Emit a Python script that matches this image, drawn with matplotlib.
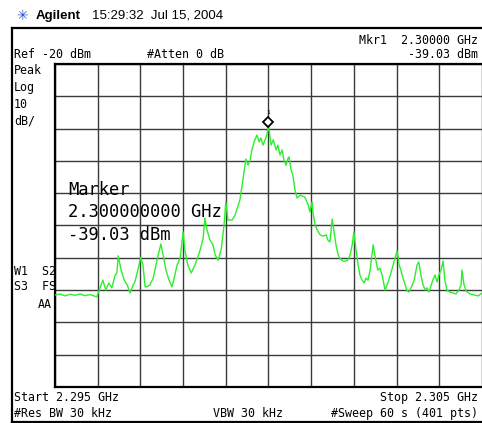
import numpy as np
import matplotlib
matplotlib.use("Agg")
import matplotlib.pyplot as plt
import matplotlib.transforms as mtransforms
from matplotlib.lines import Line2D

# -- Instrument settings -------------------------------------------------------
START_GHZ = 2.295
STOP_GHZ = 2.305
REF_DBM = -20
DB_PER_DIV = 10
N_DIV = 10

MKR_GHZ = 2.300
MKR_DBM = -39.03

# -- Trace (offset from start in MHz, level in dBm) ----------------------------
trace_mhz = [
    0.00, 0.12, 0.23, 0.35, 0.47, 0.59, 0.70, 0.82, 0.98, 1.01,
    1.12, 1.19, 1.26, 1.33, 1.41, 1.45, 1.48, 1.55, 1.62, 1.69,
    1.76, 1.83, 1.87, 1.94, 2.01, 2.06, 2.11, 2.15, 2.22, 2.30,
    2.34, 2.39, 2.48, 2.53, 2.60, 2.67, 2.74, 2.79, 2.86, 2.93,
    3.00, 3.04, 3.11, 3.19, 3.28, 3.40, 3.47, 3.51, 3.56, 3.63,
    3.70, 3.75, 3.82, 3.89, 3.96, 4.00, 4.05, 4.15, 4.22, 4.29,
    4.33, 4.40, 4.47, 4.52, 4.57, 4.61, 4.68, 4.73, 4.78, 4.82,
    4.87, 4.92, 4.96, 5.00, 5.06, 5.11, 5.18, 5.22, 5.27, 5.32,
    5.36, 5.41, 5.46, 5.48, 5.53, 5.57, 5.62, 5.67, 5.74, 5.85,
    5.93, 5.97, 6.02, 6.04, 6.09, 6.14, 6.21, 6.28, 6.35, 6.39,
    6.44, 6.49, 6.53, 6.58, 6.63, 6.67, 6.74, 6.81, 6.86, 6.91,
    6.96, 7.00, 7.05, 7.10, 7.14, 7.19, 7.24, 7.28, 7.33, 7.38,
    7.45, 7.49, 7.56, 7.61, 7.66, 7.73, 7.78, 7.85, 7.92, 8.01,
    8.06, 8.10, 8.15, 8.20, 8.24, 8.29, 8.34, 8.41, 8.48, 8.52,
    8.57, 8.62, 8.67, 8.71, 8.76, 8.81, 8.85, 8.90, 8.95, 8.99,
    9.04, 9.09, 9.13, 9.18, 9.25, 9.32, 9.39, 9.46, 9.51, 9.53,
    9.58, 9.63, 9.72, 9.81, 9.91, 10.00,
]
trace_dbm = [
    -91.5, -91.2, -91.8, -91.3, -91.6, -91.2, -91.7, -91.4, -92.1, -90.9,
    -86.9, -90.0, -87.8, -89.3, -85.3, -84.7, -79.4, -83.8, -86.9, -88.4,
    -90.9, -88.4, -87.5, -83.8, -79.8, -82.2, -89.0, -89.0, -88.4, -86.3,
    -83.8, -80.7, -75.7, -79.1, -83.8, -86.9, -89.0, -86.3, -82.2, -80.1,
    -72.0, -77.6, -82.2, -84.7, -82.2, -77.6, -73.9, -67.7, -71.4, -74.5,
    -76.0, -79.1, -80.7, -77.6, -69.8, -62.7, -68.3, -68.3, -66.7, -63.7,
    -62.1, -55.9, -49.4, -51.3, -49.7, -46.6, -43.5, -42.0, -44.1, -42.9,
    -45.1, -43.5, -42.0, -39.03, -45.1, -43.5, -46.6, -45.1, -48.2, -46.6,
    -49.7, -51.3, -49.1, -48.8, -52.8, -54.4, -59.0, -61.5, -60.6, -61.2,
    -63.7, -65.8, -62.7, -65.8, -69.8, -71.4, -72.9, -73.3, -72.9, -74.5,
    -75.1, -68.0, -71.4, -76.0, -79.1, -80.1, -81.0, -81.0, -80.7, -79.1,
    -76.0, -72.0, -77.6, -82.2, -85.3, -86.9, -87.8, -86.3, -86.9, -83.8,
    -76.0, -79.1, -83.8, -83.2, -85.3, -90.0, -88.4, -85.5, -82.2, -77.9,
    -82.2, -83.8, -86.3, -88.4, -90.0, -90.6, -89.3, -86.9, -82.2, -81.3,
    -85.3, -88.4, -90.0, -89.3, -90.6, -88.4, -86.9, -85.3, -87.5, -85.3,
    -83.8, -81.0, -86.9, -90.0, -90.6, -90.9, -91.2, -90.0, -88.4, -83.8,
    -88.4, -90.3, -91.2, -91.5, -91.8, -90.9,
]

# -- Figure setup (pixel based, 482x423) ---------------------------------------
W, H = 482, 423
fig = plt.figure(figsize=(W / 100, H / 100), dpi=100)
fig.patch.set_facecolor("white")

def fx(x):
    return x / W

def fy(y):
    return 1 - y / H

MONO = "DejaVu Sans Mono"
TXT = 8.4

# graticule area
gx0, gy0, gx1, gy1 = 55, 64, 482, 387
ax = fig.add_axes([fx(gx0), fy(gy1), (gx1 - gx0) / W, (gy1 - gy0) / H])
ax.set_xlim(START_GHZ, STOP_GHZ)
ax.set_ylim(REF_DBM - N_DIV * DB_PER_DIV, REF_DBM)
ax.set_xticks(np.linspace(START_GHZ, STOP_GHZ, N_DIV + 1))
ax.set_yticks(np.linspace(REF_DBM - N_DIV * DB_PER_DIV, REF_DBM, N_DIV + 1))
ax.tick_params(length=0, labelbottom=False, labelleft=False)
ax.grid(True, color="#3a3a3a", linewidth=1.0)
for s in ax.spines.values():
    s.set_color("black")
    s.set_linewidth(1.6)
ax.spines["right"].set_visible(False)

freq = START_GHZ + np.array(trace_mhz) / 1000.0
ax.plot(freq, trace_dbm, color="#2bef2b", linewidth=1.0, zorder=3)

# marker diamond just above the trace point
mk_tr = mtransforms.offset_copy(ax.transData, fig=fig, x=0, y=3.5, units="dots")
ax.plot([MKR_GHZ], [MKR_DBM], marker="D", markersize=5, markerfacecolor="white",
        markeredgecolor="black", markeredgewidth=1.3, transform=mk_tr, zorder=4,
        clip_on=False)
lbl_tr = mtransforms.offset_copy(ax.transData, fig=fig, x=0, y=13, units="dots")
ax.text(MKR_GHZ, MKR_DBM, "1", fontsize=4.5, family=MONO, ha="center",
        va="center", transform=lbl_tr, zorder=4)

# marker readout on the graticule
for yy, s in [(190, "Marker"), (212, "2.300000000 GHz"), (235, "-39.03 dBm")]:
    fig.text(fx(68), fy(yy), s, family=MONO, fontsize=12.3, va="center",
             ha="left", zorder=5)

# outer instrument frame
for xs, ys in [((12, 482), (28, 28)), ((12, 12), (28, 422)), ((12, 482), (422, 422))]:
    fig.add_artist(Line2D([fx(v) for v in xs], [fy(v) for v in ys],
                          color="black", linewidth=1.6))

# header
fig.text(fx(22), fy(16), "\u2733", color="#3050d0", fontsize=10, ha="center",
         va="center")
fig.text(fx(36), fy(16), "Agilent", family="Liberation Sans", weight="bold",
         fontsize=9.5, va="center")
fig.text(fx(92), fy(16), "15:29:32  Jul 15, 2004", family="Liberation Sans",
         fontsize=9.5, va="center")

# annotations
screen_txt = [
    (478, 40, "Mkr1  2.30000 GHz", "right"),
    (14, 54, "Ref -20 dBm", "left"),
    (147, 54, "#Atten 0 dB", "left"),
    (478, 54, "-39.03 dBm", "right"),
    (14, 71, "Peak", "left"),
    (14, 87, "Log", "left"),
    (14, 104, "10", "left"),
    (14, 121, "dB/", "left"),
    (14, 271, "W1  S2", "left"),
    (14, 287, "S3  FS", "left"),
    (52, 304, "AA", "right"),
    (14, 397, "Start 2.295 GHz", "left"),
    (14, 413, "#Res BW 30 kHz", "left"),
    (213, 413, "VBW 30 kHz", "left"),
    (478, 397, "Stop 2.305 GHz", "right"),
    (478, 413, "#Sweep 60 s (401 pts)", "right"),
]
for x, y, s, ha in screen_txt:
    fig.text(fx(x), fy(y), s, family=MONO, fontsize=TXT, ha=ha, va="center")

fig.savefig("out.png", dpi=100)
